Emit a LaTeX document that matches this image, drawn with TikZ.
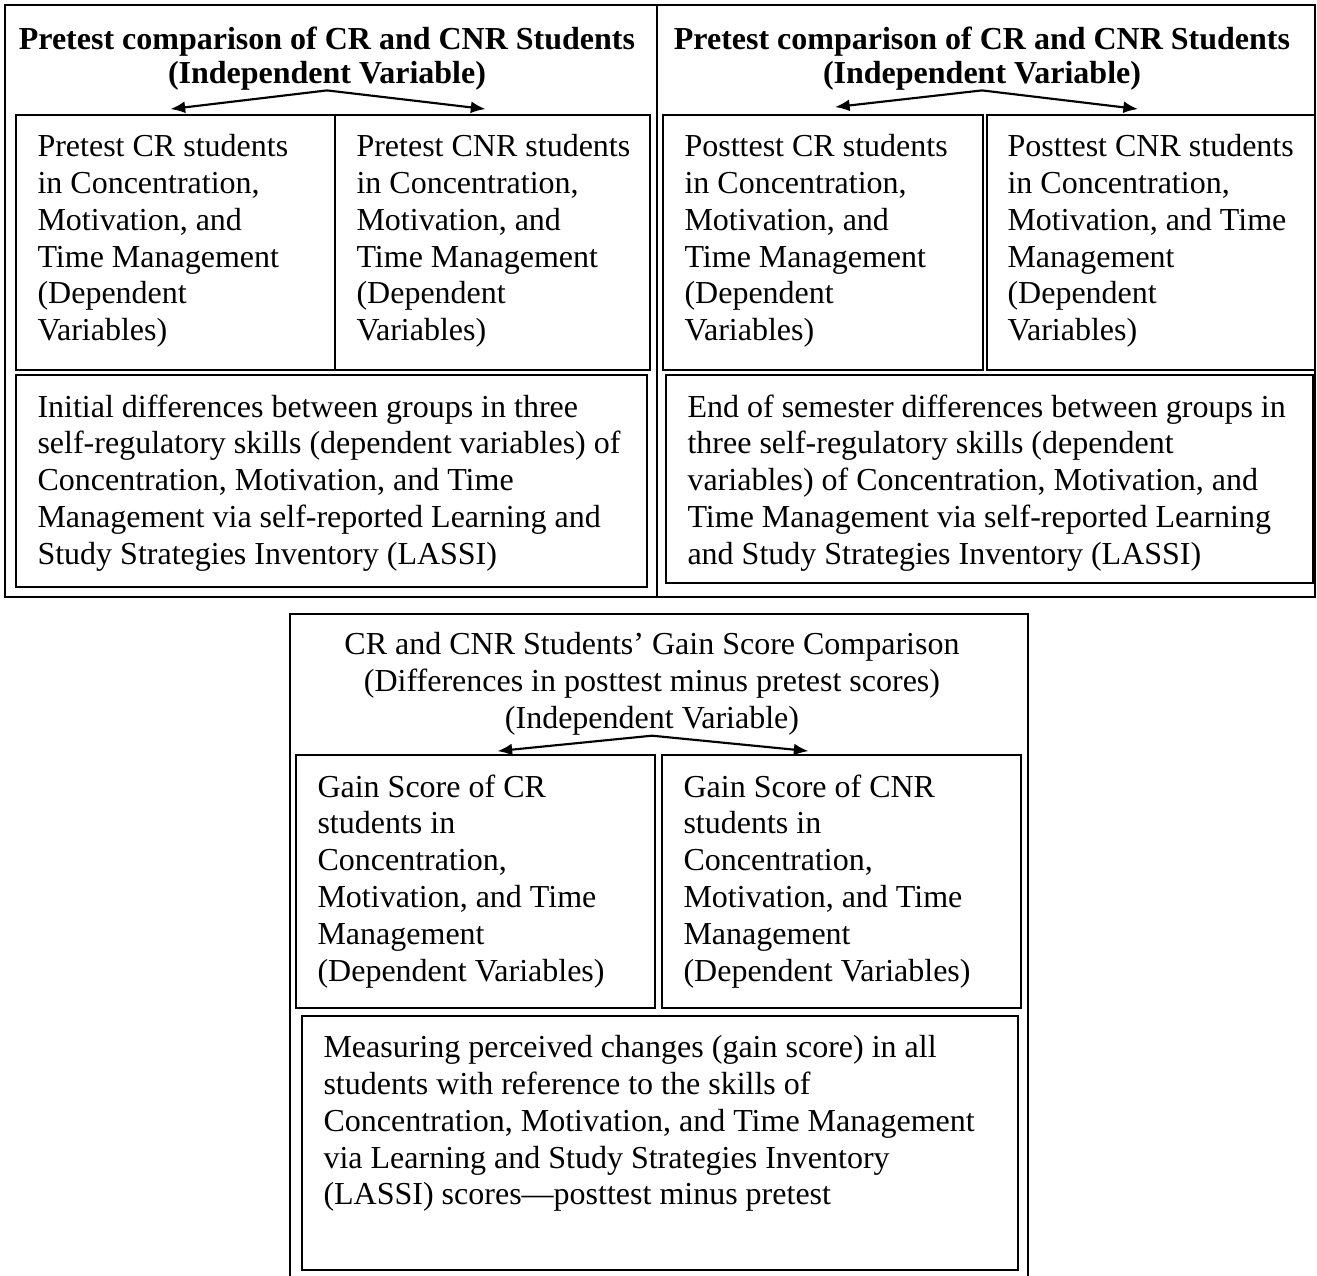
\documentclass[tikz,border=0pt]{standalone}
\usepackage{fontspec}
\setmainfont{Liberation Serif}
\usetikzlibrary{calc,fit,arrows.meta}

\begin{document}
\begin{tikzpicture}[
    x=0.375pt, y=0.375pt,
    every node/.style={font=\fontsize{12}{13.8}\selectfont},
    box/.style={draw, line width=0.7pt, inner sep=0pt},
    txt/.style={anchor=north west, align=left, inner sep=0pt},
    head/.style={anchor=north, align=center, inner sep=0pt},
    arr/.style={-{Latex[length=5.5pt,width=4.5pt]}, line width=0.8pt}
]
\useasboundingbox (0,0) rectangle (1317,-1276);

% outer frames
\draw[line width=0.7pt] (5,-5) rectangle (1315,-597);
\draw[line width=0.7pt] (657,-5) -- (657,-597);
\draw[line width=0.7pt] (290,-1276) -- (290,-614) -- (1028,-614) -- (1028,-1276);

% pretest
\node[head, font=\bfseries\fontsize{12}{12.75}\selectfont] (pretitle) at (327,-26)
    {Pretest comparison of CR and CNR Students\\(Independent Variable)};
\node[box, fit={(16,-115) (335,-370)}] (precr) {};
\node[box, fit={(335,-115) (650,-370)}] (precnr) {};
\node[box, fit={(16,-375) (647,-587)}] (prediff) {};
\node[txt] (precrtxt) at (37,-134) {Pretest CR students\\in Concentration,\\Motivation, and\\Time Management\\(Dependent\\Variables)};
\node[txt] (precnrtxt) at (356,-134) {Pretest CNR students\\in Concentration,\\Motivation, and\\Time Management\\(Dependent\\Variables)};
\node[txt] (prediftxt) at (37,-394) {Initial differences between groups in three\\self-regulatory skills (dependent variables) of\\Concentration, Motivation, and Time\\Management via self-reported Learning and\\Study Strategies Inventory (LASSI)};
\draw[arr] (pretitle.south) -- ($(precr.north)+(-5,5)$);
\draw[arr] (pretitle.south) -- ($(precnr.north)+(-7,5)$);

% posttest
\node[head, font=\bfseries\fontsize{12}{12.75}\selectfont] (posttitle) at (982,-26)
    {Pretest comparison of CR and CNR Students\\(Independent Variable)};
\node[box, fit={(663,-115) (983,-370)}] (postcr) {};
\node[box, fit={(987,-115) (1315,-370)}] (postcnr) {};
\node[box, fit={(666,-375) (1313,-583)}] (postdiff) {};
\node[txt] (postcrtxt) at (684,-134) {Posttest CR students\\in Concentration,\\Motivation, and\\Time Management\\(Dependent\\Variables)};
\node[txt] (postcnrtxt) at (1007,-134) {Posttest CNR students\\in Concentration,\\Motivation, and Time\\Management\\(Dependent\\Variables)};
\node[txt] (postdiftxt) at (687,-394) {End of semester differences between groups in\\three self-regulatory skills (dependent\\variables) of Concentration, Motivation, and\\Time Management via self-reported Learning\\and Study Strategies Inventory (LASSI)};
\draw[arr] (posttitle.south) -- ($(postcr.north)+(12,7)$);
\draw[arr] (posttitle.south) -- ($(postcnr.north)+(-13,5)$);

% gain scores
\node[head] (gaintitle) at (652,-632)
    {CR and CNR Students’ Gain Score Comparison\\(Differences in posttest minus pretest scores)\\(Independent Variable)};
\node[box, fit={(296,-755) (655,-1008)}] (gaincr) {};
\node[box, fit={(662,-755) (1021,-1008)}] (gaincnr) {};
\node[box, fit={(302,-1016) (1018,-1270)}] (gaindiff) {};
\node[txt] (gaincrtxt) at (317,-774) {Gain Score of CR\\students in\\Concentration,\\Motivation, and Time\\Management\\(Dependent Variables)};
\node[txt] (gaincnrtxt) at (683,-774) {Gain Score of CNR\\students in\\Concentration,\\Motivation, and Time\\Management\\(Dependent Variables)};
\node[txt] (gaindiftxt) at (323,-1035) {Measuring perceived changes (gain score) in all\\students with reference to the skills of\\Concentration, Motivation, and Time Management\\via Learning and Study Strategies Inventory\\(LASSI) scores---posttest minus pretest};
\draw[arr] (gaintitle.south) -- ($(gaincr.north)+(22,3)$);
\draw[arr] (gaintitle.south) -- ($(gaincnr.north)+(-33,3)$);
\end{tikzpicture}
\end{document}
